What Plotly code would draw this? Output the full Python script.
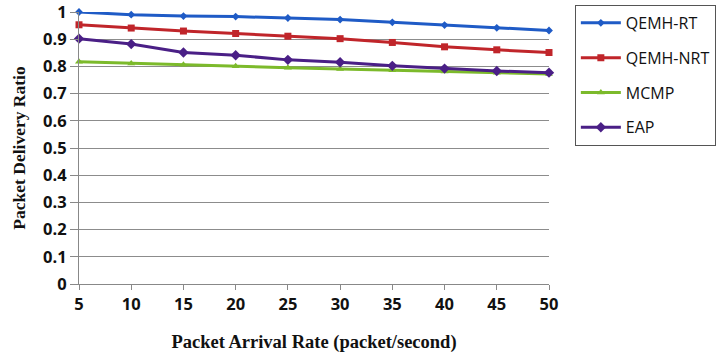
import plotly.graph_objects as go

rates = [5, 10, 15, 20, 25, 30, 35, 40, 45, 50]
qemh_rt = [1.0, 0.99, 0.985, 0.983, 0.978, 0.972, 0.962, 0.952, 0.942, 0.932]
qemh_nrt = [0.953, 0.941, 0.93, 0.921, 0.911, 0.902, 0.888, 0.872, 0.861, 0.851]
mcmp = [0.817, 0.811, 0.806, 0.801, 0.795, 0.79, 0.786, 0.781, 0.777, 0.772]
eap = [0.902, 0.882, 0.851, 0.841, 0.824, 0.815, 0.802, 0.792, 0.783, 0.777]
y_ticks = [0, 0.1, 0.2, 0.3, 0.4, 0.5, 0.6, 0.7, 0.8, 0.9, 1]
y_tick_text = ["0", "0.1", "0.2", "0.3", "0.4", "0.5", "0.6", "0.7", "0.8", "0.9", "1"]

series = [
    ("QEMH-RT", qemh_rt, "#1F5BC6", "diamond", 6),
    ("QEMH-NRT", qemh_nrt, "#C0252A", "square", 7),
    ("MCMP", mcmp, "#7CBA2B", "triangle-up", 7),
    ("EAP", eap, "#4A1F86", "diamond", 8),
]

fig = go.Figure()
for i, (name, vals, color, sym, size) in enumerate(series):
    fig.add_trace(go.Scatter(
        x=rates, y=vals, name=name, mode="lines+markers",
        line=dict(color=color, width=3),
        marker=dict(symbol=sym, size=size, color=color),
        cliponaxis=False, legendgroup=f"g{i}",
    ))

fig.update_layout(
    width=716, height=362,
    margin=dict(l=79, r=167, t=12, b=78, autoexpand=False),
    paper_bgcolor="white", plot_bgcolor="white",
    showlegend=True,
    legend=dict(
        x=1.055, y=1.026, xanchor="left", yanchor="top",
        bordercolor="#555555", borderwidth=1,
        font=dict(family="Open Sans, sans-serif", size=16, color="#111111"),
        tracegroupgap=11, itemwidth=40,
    ),
    xaxis=dict(
        range=[5, 50], tickvals=rates, ticktext=[str(r) for r in rates],
        showgrid=False, showline=True, linecolor="#888888", linewidth=1,
        ticks="outside", ticklen=5, tickcolor="#888888",
        tickfont=dict(family="Open Sans, sans-serif", size=16.5, color="#111111", weight="bold"),
        title=dict(text="Packet Arrival Rate (packet/second)",
                   font=dict(family="Liberation Serif, serif", size=18.5, color="#111111", weight="bold"),
                   standoff=21),
        zeroline=False, automargin=False,
    ),
    yaxis=dict(
        range=[0, 1], tickvals=y_ticks, ticktext=y_tick_text,
        showgrid=True, gridcolor="#8c8c8c", gridwidth=1,
        showline=True, linecolor="#888888", linewidth=1,
        ticks="outside", ticklen=8, tickcolor="#888888",
        tickfont=dict(family="Open Sans, sans-serif", size=16.5, color="#111111", weight="bold"),
        title=dict(text="Packet Delivery Ratio",
                   font=dict(family="Liberation Serif, serif", size=17.5, color="#111111", weight="bold"),
                   standoff=12),
        zeroline=False, automargin=False, ticklabeloverflow="allow",
    ),
)

# remove the browser's default 8px body margin so the figure sits at the page origin
fig.write_html("out.html", config={"displayModeBar": False},
               post_script="document.body.style.margin='0';")
